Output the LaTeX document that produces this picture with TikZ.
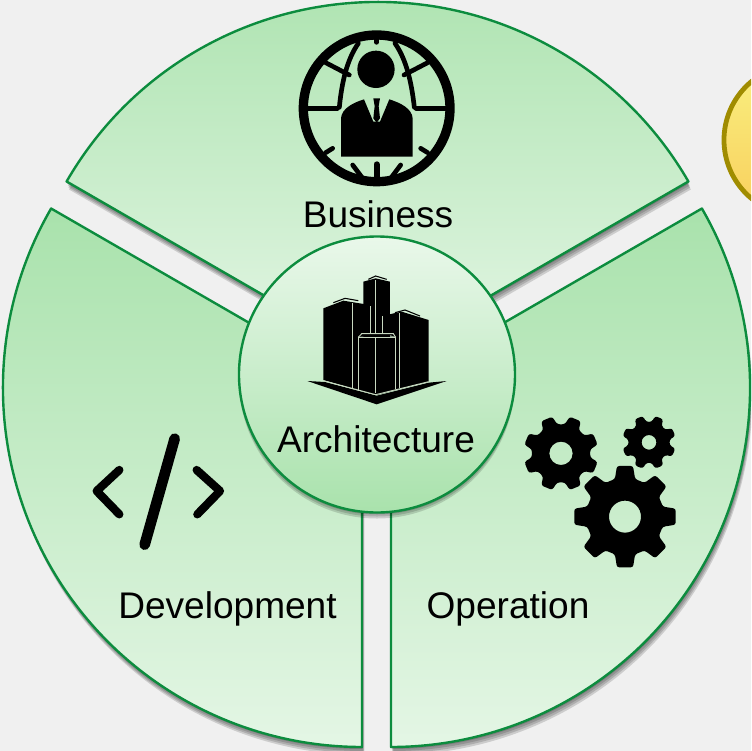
\documentclass[tikz,border=0pt]{standalone}
\usepackage{fontspec}
\setmainfont{Liberation Sans}
\definecolor{pagegray}{HTML}{F0F0F0}
\definecolor{rimgreen}{HTML}{0C8C3E}
\definecolor{palegreen}{HTML}{E4F6E5}
\definecolor{midgreen}{HTML}{A9E2AC}
\definecolor{rimgold}{HTML}{A08C00}
\definecolor{lightgold}{HTML}{F9F080}
\definecolor{deepgold}{HTML}{F9CE5C}
\definecolor{towerline}{HTML}{C8D8C0}
\tikzset{
  sectorshape/.style={draw=rimgreen,line width=1.8pt,line join=round,top color=midgreen,bottom color=palegreen},
  hubshape/.style={draw=rimgreen,line width=1.8pt,top color=palegreen!80!white,bottom color=midgreen},
  softshade/.style={fill=black,opacity=0.15},
  iconstroke/.style={draw=black,line cap=round,line join=round},
  labeltext/.style={anchor=base,inner sep=0.75pt,font=\fontsize{27.8}{30}\selectfont},
}
% sector with apex at #1, swept from angle #2 to angle #3
\newcommand{\sectorpath}[3]{#1 -- ++(#2:359) arc[start angle=#2,end angle=#3,radius=359] -- cycle}
% gear at #1: radii hole #2, root #3, tip #4, tooth offset #5
\newcommand{\geariconpath}[5]{
  \fill[shift={#1},even odd rule,rounded corners=1.8pt] (0,0) circle (#2)
    ({#5-22.5}:#3) \foreach \a in {0,45,...,315} { -- ({#5+\a-15}:#3) -- ({#5+\a-9}:#4) -- ({#5+\a+9}:#4) -- ({#5+\a+15}:#3) } -- cycle;
}

\begin{document}
\begin{tikzpicture}[x=0.75pt,y=0.75pt,yscale=-1,xscale=1]
\useasboundingbox (0,0) rectangle (751,751);
\fill[pagegray] (0,0) rectangle (751,751);

\begin{scope}
\clip (0,0) rectangle (751,751);

%Yellow Shape
\shade[draw=rimgold,line width=3.6pt,top color=lightgold,bottom color=deepgold] (800,140) circle (76);

%Sector Shadows
\foreach \d in {2,4,6,8} {
  \fill[softshade,yshift=\d*0.75pt,xshift=0.3*\d*0.75pt] \sectorpath{(377.5,361)}{210}{330};
  \fill[softshade,yshift=\d*0.75pt,xshift=0.3*\d*0.75pt] \sectorpath{(362,388)}{210}{90};
  \fill[softshade,yshift=\d*0.75pt,xshift=0.3*\d*0.75pt] \sectorpath{(391,388)}{330}{450};
}

%Sectors
\shade[sectorshape] \sectorpath{(377.5,361)}{210}{330};
\shade[sectorshape] \sectorpath{(362,388)}{210}{90};
\shade[sectorshape] \sectorpath{(391,388)}{330}{450};

%Hub Shadow
\foreach \d in {2,4,6} {
  \fill[softshade,yshift=\d*0.75pt] (377,374.5) circle (138);
}
%Hub
\shade[hubshape] (377,374.5) circle (138);
\end{scope}

%Globe Icon
\begin{scope}[shift={(280,10)},scale=1/3]
\draw[iconstroke,line width=7pt] (290,295) circle (220);
\draw[iconstroke,line width=3.5pt] (82,295) -- (172,295);
\draw[iconstroke,line width=3.5pt] (498,295) -- (408,295);
\draw[iconstroke,line width=3.5pt] (235,100) .. controls (200,150) and (185,220) .. (178,292);
\draw[iconstroke,line width=3.5pt] (345,100) .. controls (380,150) and (395,220) .. (403,292);
\draw[iconstroke,line width=3.5pt] (137,158) -- (208,195);
\draw[iconstroke,line width=3.5pt] (443,158) -- (372,195);
\draw[iconstroke,line width=3.5pt] (290,80) -- (290,97);
\draw[iconstroke,line width=3.5pt] (137,428) -- (158,415);
\draw[iconstroke,line width=3.5pt] (443,428) -- (422,415);
\draw[iconstroke,line width=3.5pt] (218,465) -- (248,505);
\draw[iconstroke,line width=3.5pt] (362,465) -- (332,505);
\draw[iconstroke,line width=4.5pt] (290,463) -- (290,510);
\fill (288,178) circle (56);
\fill (183,440) -- (183,325) .. controls (185,295) and (220,278) .. (252,268) -- (280,335) -- (300,335) -- (328,268) .. controls (360,278) and (396,295) .. (398,325) -- (398,440) -- cycle;
\fill (280,265) -- (300,265) -- (296,288) -- (300,325) -- (290,338) -- (280,325) -- (284,288) -- cycle;
\end{scope}

%Tower Icon
\begin{scope}[shift={(230,230)},scale=1/3]
\fill (400,155) -- (437,145) -- (480,155) -- (480,330) -- (400,330) -- cycle;
\fill (280,235) -- (340,212) -- (420,225) -- (422,320) -- (385,320) -- (385,480) -- (280,450) -- cycle;
\fill (455,258) -- (515,245) -- (596,270) -- (596,455) -- (497,480) -- (497,320) -- (455,310) -- cycle;
\fill (385,320) -- (497,320) -- (497,480) -- (440,495) -- (385,480) -- cycle;
\fill (232,453) -- (285,456) -- (440,497) -- (596,458) -- (650,453) -- (440,523) -- cycle;
\draw[towerline,line width=0.7pt] (368,218) -- (368,475);
\draw[towerline,line width=0.7pt] (437,150) -- (437,308);
\draw[towerline,line width=0.7pt] (508,250) -- (508,475);
\draw[towerline,line width=0.7pt] (422,228) -- (422,308);
\draw[towerline,line width=0.7pt] (457,258) -- (457,308);
\draw[towerline,line width=0.7pt] (385,482) -- (385,322) -- (497,322) -- (497,478);
\draw[towerline,line width=0.7pt] (385,322) -- (395,311) -- (490,311) -- (497,322);
\draw[towerline,line width=1.2pt] (437,325) -- (437,490);
\draw[towerline,line width=0.7pt] (280,452) -- (437,494) -- (596,455);
\draw[line width=0.8pt] (310,218) -- (345,205) -- (385,212);
\draw[line width=0.8pt] (415,148) -- (437,138) -- (470,148);
\draw[line width=0.8pt] (495,248) -- (525,240) -- (570,258);
\end{scope}

%Gear Icon
\begin{scope}[shift={(510,400)},scale=1/3]
\geariconpath{(153,160)}{35}{88}{113}{22.5}
\geariconpath{(417,127)}{22}{62}{81}{22.5}
\geariconpath{(345,350)}{48}{117}{154}{0}
\end{scope}

%Code Icon
\begin{scope}[shift={(70,420)},scale=1/3]
\draw[iconstroke,line width=6.2pt] (148,150) -- (80,213) -- (148,283);
\draw[iconstroke,line width=6.2pt] (380,150) -- (450,213) -- (382,283);
\draw[iconstroke,line width=8pt] (314,56) -- (224,374);
\end{scope}

% Text Node
\node[labeltext] (business) at (378,227) {Business};
% Text Node
\node[labeltext] (architecture) at (376,452) {Architecture};
% Text Node
\node[labeltext] (development) at (227.5,618) {Development};
% Text Node
\node[labeltext] (operation) at (508,618) {Operation};

\end{tikzpicture}
\end{document}
